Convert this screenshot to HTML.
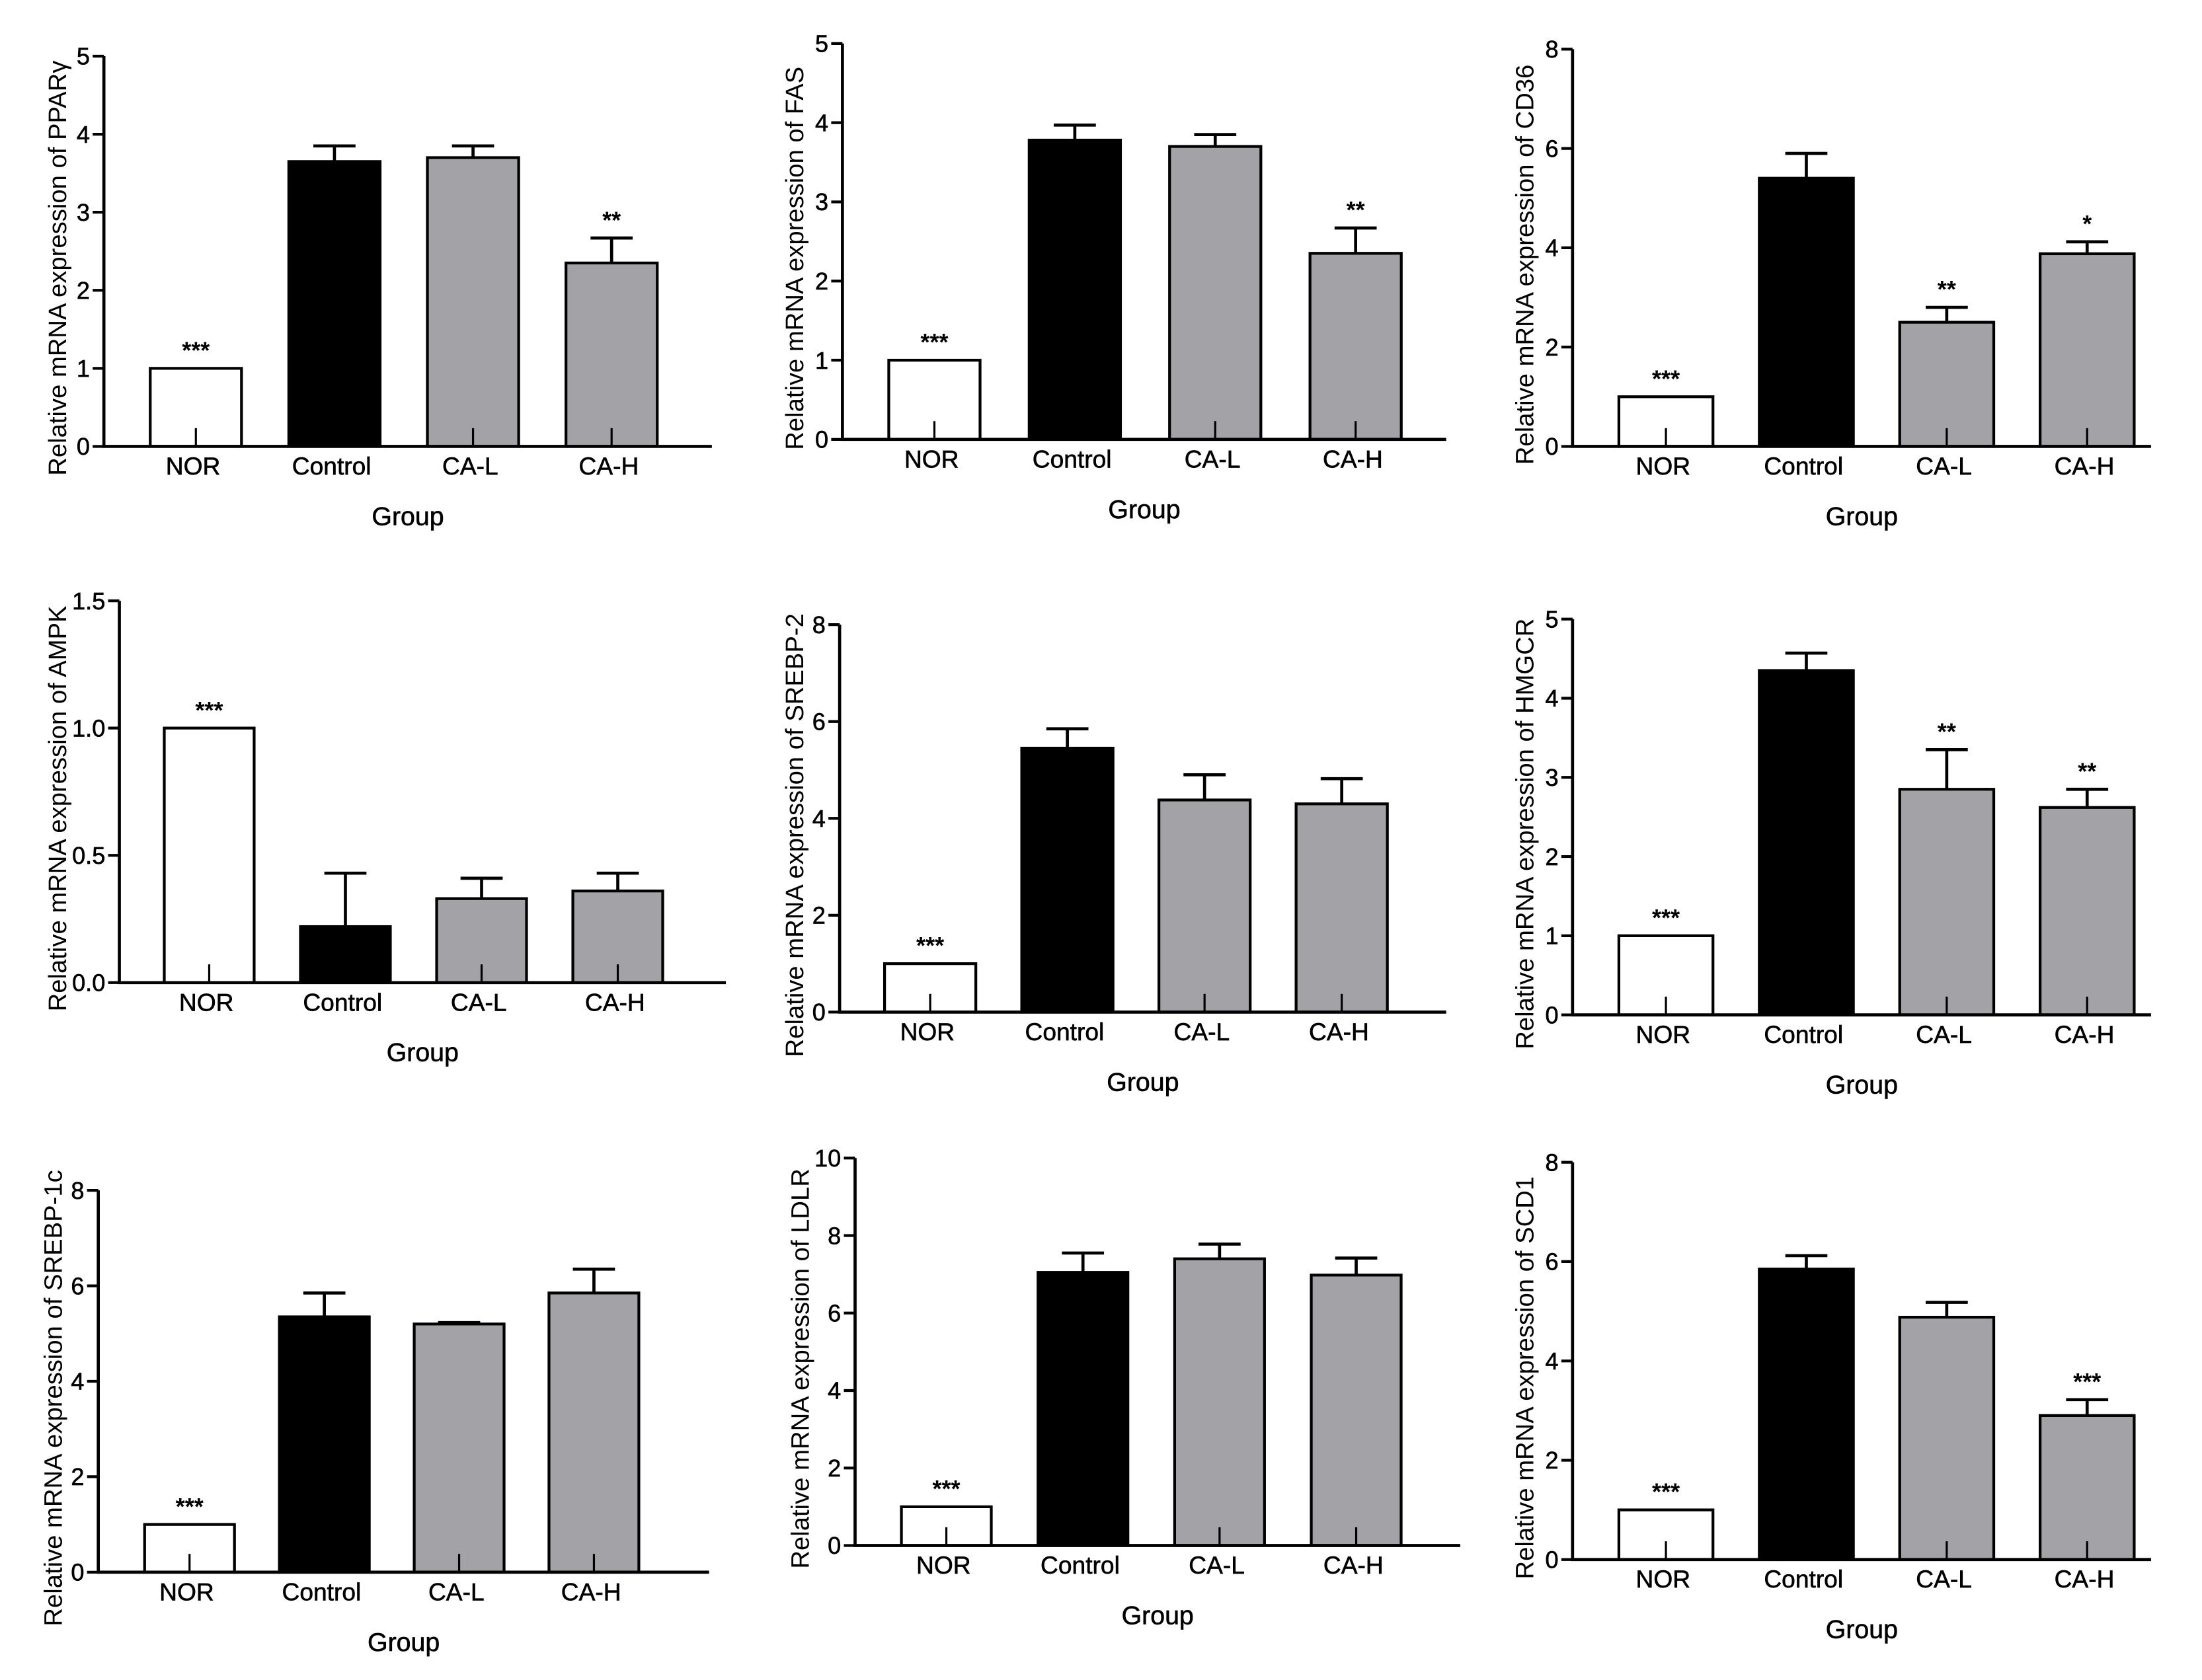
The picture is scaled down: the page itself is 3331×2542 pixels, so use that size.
<!DOCTYPE html>
<html><head><meta charset="utf-8"><style>
html,body{margin:0;padding:0;background:#fff}
svg{display:block}
text{font-family:"Liberation Sans",Arial,sans-serif;fill:#000}
</style></head><body>
<svg id="fig" width="3331" height="2542" viewBox="0 0 1568.3 1196.8" xmlns="http://www.w3.org/2000/svg"></svg>
<script>
const categories = ["NOR","Control","CA-L","CA-H"];
const genes = ["PPARγ","FAS","CD36","AMPK","SREBP-2","HMGCR","SREBP-1c","LDLR","SCD1"];
const valsPPAR = [1, 3.65, 3.7, 2.35];
const errPPAR = [1, 3.85, 3.85, 2.67];
const starsPPAR = ["***","","","**"];
const valsFAS = [1, 3.78, 3.7, 2.35];
const errFAS = [1, 3.97, 3.85, 2.67];
const starsFAS = ["***","","","**"];
const valsCD36 = [1, 5.4, 2.5, 3.88];
const errCD36 = [1, 5.9, 2.8, 4.12];
const starsCD36 = ["***","","**","*"];
const valsAMPK = [1.0, 0.22, 0.33, 0.36];
const errAMPK = [1.0, 0.43, 0.41, 0.43];
const starsAMPK = ["***","","",""];
const valsSREBP2 = [1, 5.45, 4.38, 4.3];
const errSREBP2 = [1, 5.85, 4.9, 4.82];
const starsSREBP2 = ["***","","",""];
const valsHMGCR = [1, 4.35, 2.85, 2.62];
const errHMGCR = [1, 4.57, 3.35, 2.85];
const starsHMGCR = ["***","","**","**"];
const valsSREBP1c = [1, 5.35, 5.2, 5.85];
const errSREBP1c = [1, 5.85, 5.23, 6.35];
const starsSREBP1c = ["***","","",""];
const valsLDLR = [1, 7.05, 7.4, 6.98];
const errLDLR = [1, 7.55, 7.78, 7.42];
const starsLDLR = ["***","","",""];
const valsSCD1 = [1, 5.85, 4.88, 2.9];
const errSCD1 = [1, 6.12, 5.18, 3.22];
const starsSCD1 = ["***","","","***"];
const ticksPPAR = [0,1,2,3,4,5];
const ticksFAS = [0,1,2,3,4,5];
const ticks8 = [0,2,4,6,8];
const ticksAMPK = [0,0.5,1.0,1.5];
const tickLabelsAMPK = ["0.0","0.5","1.0","1.5"];
const ticksLDLR = [0,2,4,6,8,10];

const panels = [
 {g:0,ax:74,yl:41,top:40,zero:318,end:507,b0:107,step:98.7,bw:65,max:5,ticks:ticksPPAR,vals:valsPPAR,err:errPPAR,stars:starsPPAR},
 {g:1,ax:600,yl:566,top:31,zero:313,end:1030,b0:633,step:100,bw:65,max:5,ticks:ticksFAS,vals:valsFAS,err:errFAS,stars:starsFAS},
 {g:2,ax:1120,yl:1086,top:35,zero:318,end:1532,b0:1153,step:100,bw:67,max:8,ticks:ticks8,vals:valsCD36,err:errCD36,stars:starsCD36},
 {g:3,ax:85,yl:41,top:428,zero:700,end:517,b0:117,step:97,bw:64,max:1.5,ticks:ticksAMPK,tl:tickLabelsAMPK,vals:valsAMPK,err:errAMPK,stars:starsAMPK},
 {g:4,ax:598,yl:566,top:445,zero:721,end:1030,b0:630,step:97.7,bw:65,max:8,ticks:ticks8,vals:valsSREBP2,err:errSREBP2,stars:starsSREBP2},
 {g:5,ax:1120,yl:1086,top:441,zero:723,end:1532,b0:1153,step:100,bw:67,max:5,ticks:ticksPPAR,vals:valsHMGCR,err:errHMGCR,stars:starsHMGCR},
 {g:6,ax:70,yl:38,top:848,zero:1120,end:505,b0:103,step:96,bw:64,max:8,ticks:ticks8,vals:valsSREBP1c,err:errSREBP1c,stars:starsSREBP1c},
 {g:7,ax:609,yl:570,top:825,zero:1101,end:1040,b0:642,step:97.3,bw:64,max:10,ticks:ticksLDLR,vals:valsLDLR,err:errLDLR,stars:starsLDLR},
 {g:8,ax:1120,yl:1086,top:828,zero:1111,end:1532,b0:1153,step:100,bw:67,max:8,ticks:ticks8,vals:valsSCD1,err:errSCD1,stars:starsSCD1}
];
const fills = ["#ffffff","#000000","#a3a3a7","#a3a3a7"];
const NS="http://www.w3.org/2000/svg";
const svg=document.getElementById('fig');
function mk(tag,attrs,parent,txt){const e=document.createElementNS(NS,tag);for(const k in attrs)e.setAttribute(k,attrs[k]);if(txt!==undefined)e.textContent=txt;(parent||svg).appendChild(e);return e;}
panels.forEach((p,pi)=>{
  const grp=mk('g',{});
  
  
  const y=v=>p.zero-(v/p.max)*(p.zero-p.top);
  p.vals.forEach((v,i)=>{
    const x=p.b0+i*p.step, cx=x+p.bw/2;
    const r=mk('rect',{x:x,y:y(v),width:p.bw,height:p.zero-y(v),fill:fills[i],stroke:'#000','stroke-width':2},grp);
    
    
    if(p.err[i]>v){
      const e=mk('path',{d:`M${cx} ${y(v)}V${y(p.err[i])}M${cx-15} ${y(p.err[i])}H${cx+15}`,stroke:'#000','stroke-width':2.2,fill:'none'},grp);
      
      
    }
    if(i!==1) mk('line',{x1:cx,x2:cx,y1:p.zero,y2:p.zero-13,stroke:'#000','stroke-width':1.5},grp);
    if(p.stars[i]){
      const s=mk('text',{x:cx,y:y(Math.max(v,p.err[i]))-7,'text-anchor':'middle','font-size':17,'font-weight':'bold'},grp,p.stars[i]);
      
      
    }
    const t=mk('text',{x:cx-2,y:p.zero+20,'text-anchor':'middle','font-size':17.5,stroke:'#000','stroke-width':0.3},grp,categories[i]);
    
    
  });
  const a=mk('path',{d:`M${p.ax} ${p.top}V${p.zero}H${p.end}`,stroke:'#000','stroke-width':2.2,fill:'none'},grp);
  
  
  p.ticks.forEach((tv,k)=>{
    mk('line',{x1:p.ax-8,x2:p.ax,y1:y(tv),y2:y(tv),stroke:'#000','stroke-width':2},grp);
    const t=mk('text',{x:p.ax-10,y:y(tv)+6,'text-anchor':'end','font-size':17,stroke:'#000','stroke-width':0.3},grp,p.tl?p.tl[k]:String(tv));
    
    
  });
  const midY=(p.top+p.zero)/2+12;
  const yl=mk('text',{x:0,y:0,'text-anchor':'middle','font-size':18,transform:`translate(${p.yl+6},${midY}) rotate(-90)`},grp,'Relative mRNA expression of '+genes[p.g]);
  
  
  const xl=mk('text',{x:(p.ax+p.end)/2,y:p.zero+56,'text-anchor':'middle','font-size':18.5,stroke:'#000','stroke-width':0.3},grp,'Group');
  
  
});
</script>
</body></html>
